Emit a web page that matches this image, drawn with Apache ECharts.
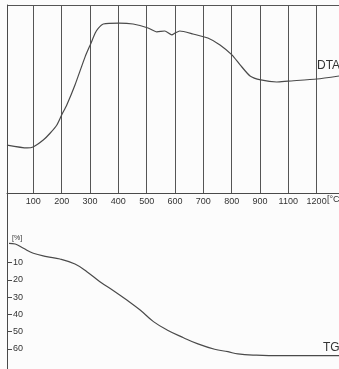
<!DOCTYPE html>
<html>
<head>
<meta charset="utf-8">
<script src="https://cdn.jsdelivr.net/npm/echarts@6/dist/echarts.min.js"></script>
<style>
  html, body { margin: 0; padding: 0; background: #fcfcfc; }
  #chart { width: 339px; height: 369px; }
</style>
</head>
<body>
<div id="chart"></div>
<script>
// temperature gridlines (axis units) and what is printed under them
const tickValues = [100, 200, 300, 400, 500, 600, 700, 800, 900, 1000, 1100]
const tickLabels = ['100', '200', '300', '400', '500', '600', '700', '800', '900', '1100', '1200']

// DTA curve, arbitrary units (no scale printed)
const dtaTemp = [7, 78, 99, 135, 159, 183, 200, 218, 247, 283, 303, 318, 329, 347, 402, 452, 505, 536, 564, 589, 600, 617, 664, 716, 759, 801, 830, 865, 903, 959, 999, 1101, 1179]
const dtaValue = [25.6, 24.1, 24.6, 28.3, 31.9, 36.3, 41.6, 46.9, 57.5, 72.6, 79.6, 85.0, 87.6, 89.9, 90.4, 89.9, 87.8, 85.7, 86.2, 84.1, 85.1, 86.2, 84.6, 82.5, 78.8, 73.5, 68.2, 62.3, 60.2, 59.1, 59.6, 60.7, 62.3]

// TG curve, mass loss in %
const tgTicks = [10, 20, 30, 40, 50, 60]
const tgTemp = [14, 36, 65, 100, 147, 194, 247, 289, 335, 383, 430, 477, 524, 572, 630, 681, 740, 787, 822, 887, 974, 1105, 1179]
const tgValue = [-1.1, -0.7, 1.8, 4.7, 6.6, 8.0, 10.9, 15.3, 21.1, 26.3, 31.7, 37.5, 44.2, 49.0, 53.5, 57.1, 60.2, 61.6, 62.9, 63.6, 63.9, 63.9, 63.9]

const ink = '#4a4a4a'
const font = 'Liberation Sans'

const chart = echarts.init(document.getElementById('chart'))

const option = {
  backgroundColor: '#fcfcfc',
  animation: false,
  grid: [
    { left: 7, right: 0, top: 5, height: 188.3 },
    { left: 7, right: 0, top: 193.3, bottom: 0 }
  ],
  xAxis: [
    {
      type: 'value', gridIndex: 0, min: 7, max: 1179,
      axisLine: { lineStyle: { color: ink, width: 1 } },
      axisTick: { show: false, customValues: tickValues },
      axisLabel: {
        customValues: tickValues, margin: 4, fontSize: 9, fontFamily: font, color: '#333',
        formatter: v => tickLabels[tickValues.indexOf(v)] || ''
      },
      splitLine: { show: true, lineStyle: { color: '#555', width: 1 } }
    },
    {
      type: 'value', gridIndex: 1, min: 7, max: 1179, show: false
    }
  ],
  yAxis: [
    {
      type: 'value', gridIndex: 0, min: 0, max: 100, interval: 100,
      axisLine: { show: true, lineStyle: { color: ink } },
      axisTick: { show: false }, axisLabel: { show: false },
      splitLine: { show: true, lineStyle: { color: '#555', width: 1 } }
    },
    {
      type: 'value', gridIndex: 1, inverse: true, min: -30, max: 71.6,
      axisLine: { show: true, lineStyle: { color: ink } },
      axisTick: { show: true, inside: true, length: 5, customValues: tgTicks, lineStyle: { color: ink } },
      axisLabel: { inside: true, margin: 6, customValues: tgTicks, fontSize: 9, fontFamily: font, color: '#333' },
      splitLine: { show: false }
    },
    {
      type: 'value', gridIndex: 1, inverse: true, min: -30, max: 71.6,
      axisLine: { show: false },
      axisTick: { show: true, length: 5, customValues: tgTicks, lineStyle: { color: ink } },
      axisLabel: { show: false },
      splitLine: { show: false }
    }
  ],
  graphic: [
    { type: 'text', left: 317, top: 60, style: { text: 'DTA', fontSize: 12, fontFamily: font, fill: '#333' } },
    { type: 'text', left: 323, top: 342, style: { text: 'TG', fontSize: 12, fontFamily: font, fill: '#333' } },
    { type: 'text', left: 327, top: 195, style: { text: '[°C]', fontSize: 9, fontFamily: font, fill: '#333' } },
    { type: 'text', left: 12, top: 235, style: { text: '[%]', fontSize: 7, fontFamily: font, fill: '#333' } }
  ],
  series: [
    {
      name: 'DTA', type: 'line', xAxisIndex: 0, yAxisIndex: 0,
      data: dtaTemp.map((t, i) => [t, dtaValue[i]]),
      smooth: 0.2, showSymbol: false,
      lineStyle: { color: ink, width: 1.2 }
    },
    {
      name: 'TG', type: 'line', xAxisIndex: 1, yAxisIndex: 1,
      data: tgTemp.map((t, i) => [t, tgValue[i]]),
      smooth: 0.4, showSymbol: false,
      lineStyle: { color: ink, width: 1.2 }
    }
  ]
}

chart.setOption(option)
</script>
</body>
</html>
